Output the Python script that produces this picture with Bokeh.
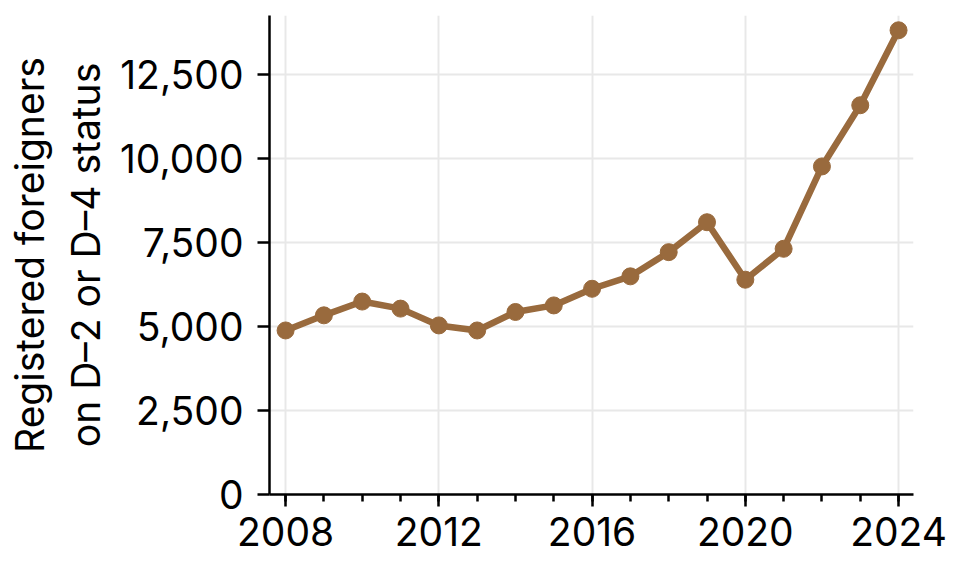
from bokeh.plotting import figure
from bokeh.models import Range1d, SingleIntervalTicker, NumeralTickFormatter
from bokeh.embed import file_html
from bokeh.resources import INLINE

years = [2008, 2009, 2010, 2011, 2012, 2013, 2014, 2015, 2016,
         2017, 2018, 2019, 2020, 2021, 2022, 2023, 2024]
registered = [4880, 5330, 5740, 5530, 5030, 4880, 5430, 5625, 6120,
              6490, 7210, 8100, 6390, 7310, 9760, 11580, 13810]
y_label = "Registered foreigners\non D–2 or D–4 status"

COLOR = "#996A3D"
FONT = "Inter"

p = figure(width=954, height=568, output_backend="svg", toolbar_location=None,
           x_range=Range1d(2007.58, 2024.39), y_range=Range1d(0, 14250),
           min_border_left=269, min_border_right=41, min_border_top=15,
           min_border_bottom=74)
p.outline_line_color = None
p.background_fill_color = "white"
p.border_fill_color = "white"

p.line(years, registered, line_color=COLOR, line_width=6.5)
p.scatter(years, registered, size=17, fill_color=COLOR, line_color=COLOR)

p.xaxis.ticker = SingleIntervalTicker(interval=4, num_minor_ticks=4)
p.yaxis.ticker = SingleIntervalTicker(interval=2500, num_minor_ticks=0)
p.yaxis.formatter = NumeralTickFormatter(format="0,0")

for ax in (p.xaxis[0], p.yaxis[0]):
    ax.axis_line_color = "black"
    ax.axis_line_width = 2.5
    ax.major_tick_line_color = "black"
    ax.major_tick_line_width = 2.5
    ax.major_tick_in = 0
    ax.major_tick_out = 12
    ax.minor_tick_line_color = "black"
    ax.minor_tick_line_width = 2.5
    ax.minor_tick_in = 0
    ax.minor_tick_out = 7
    ax.major_label_text_font = FONT
    ax.major_label_text_font_size = "39px"
    ax.major_label_text_color = "black"

p.yaxis.minor_tick_line_color = None
p.xaxis.major_label_standoff = 10
p.yaxis.major_label_standoff = 14

p.yaxis.axis_label = y_label
p.yaxis.axis_label_text_font = FONT
p.yaxis.axis_label_text_font_size = "39px"
p.yaxis.axis_label_text_font_style = "normal"
p.yaxis.axis_label_text_color = "black"
p.yaxis.axis_label_standoff = 8

p.xgrid.grid_line_color = "#e8e8e8"
p.xgrid.grid_line_width = 2
p.ygrid.grid_line_color = "#e8e8e8"
p.ygrid.grid_line_width = 2

open("out.html", "w").write(file_html(p, INLINE))
